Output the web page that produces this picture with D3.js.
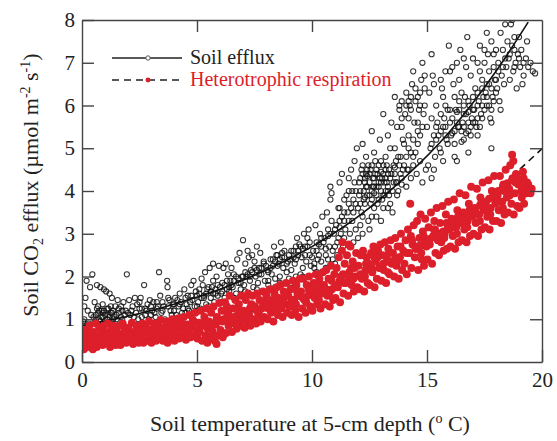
<!DOCTYPE html>
<html><head><meta charset="utf-8">
<script src="https://cdn.jsdelivr.net/npm/d3@7"></script>
<style>@font-face{font-family:"ChartSerif";src:local("Liberation Serif"),local("LiberationSerif"),local("LiberationSerif-Regular");}
body{margin:0;background:#fff}</style></head>
<body><svg id="c" width="557" height="441"></svg>
<script>
const xTicks=[0,5,10,15,20];
const yTicks=[0,1,2,3,4,5,6,7,8];
const seriesNames=["Soil efflux","Heterotrophic respiration"];
// Soil efflux observations [temperature, efflux]
const effluxPoints=[
[0.05,0.85],[0.1,1.0],[0.15,1.5],[0.2,1.9],[0.25,1.2],[0.3,0.9],[0.35,1.75],[0.45,2.05],[0.1,1.3],[0.4,1.1],[0.05,0.95],[0.3,0.8],
[0.55,0.95],[0.6,1.1],[0.65,1.8],[0.7,1.3],[0.75,1.0],[0.8,1.75],[0.85,1.2],[0.9,1.05],[0.95,1.7],[0.55,1.4],[0.7,0.9],[0.9,1.35],
[1.05,1.65],[1.1,1.25],[1.15,1.1],[1.2,1.6],[1.25,0.95],[1.3,1.5],[1.35,1.2],[1.4,1.05],[1.45,1.3],[1.1,1.0],[1.3,1.15],
[1.55,1.45],[1.6,1.15],[1.7,1.3],[1.75,1.0],[1.8,1.4],[1.9,1.2],[1.95,2.05],[1.85,1.1],
[0.6,1.0],[0.7,1.15],[0.8,0.95],[0.85,1.05],[0.95,1.2],[1.0,1.1],[1.05,0.9],[1.15,1.25],[1.2,1.05],[1.25,1.15],[1.35,1.0],[1.5,1.1],[1.6,1.25],[1.7,1.05],[0.65,1.25],[0.9,1.15],
[0.5,1.05],[0.75,1.2],[1.0,0.95],[1.25,1.3],[1.5,1.0],[1.75,1.2],[2.0,1.15],[2.25,1.05],[2.5,1.4],[2.75,1.25],[3.0,1.1],[3.25,1.4],[3.5,1.2],[3.75,1.5],[4.0,1.2],[4.25,1.35],[4.5,1.15],[4.75,1.55],[5.0,1.3],
[2.05,1.45],[2.1,1.1],[2.2,1.3],[2.3,1.5],[2.35,1.15],[2.45,1.0],[2.4,1.35],
[2.55,1.5],[2.6,1.25],[2.7,1.8],[2.75,1.1],[2.85,1.35],[2.9,1.0],[2.95,1.45],
[3.05,1.2],[3.1,1.4],[3.2,1.05],[3.3,1.3],[3.35,2.1],[3.4,1.55],[3.45,1.15],
[3.55,1.3],[3.6,1.0],[3.7,1.9],[3.72,1.75],[3.8,1.45],[3.85,1.2],[3.95,1.35],
[4.05,1.5],[4.1,1.1],[4.2,1.3],[4.25,1.6],[4.3,1.4],[4.4,1.25],[4.45,1.7],[4.35,1.15],
[4.55,1.35],[4.6,1.55],[4.65,1.2],[4.75,1.8],[4.8,1.45],[4.9,1.3],[4.95,1.65],[4.85,1.9],
[2.15,1.2],[2.5,1.25],[2.8,1.2],[3.0,1.3],[3.25,1.25],[3.5,1.4],[3.75,1.3],[4.0,1.35],[4.15,1.45],[4.5,1.5],[4.7,1.4],[2.6,1.05],[3.15,1.15],[3.9,1.1],[4.6,1.25],
[5.05,1.4],[5.1,1.6],[5.15,1.25],[5.2,1.95],[5.3,1.5],[5.35,2.1],[5.4,1.35],[5.45,1.7],[5.25,1.8],
[5.55,2.2],[5.6,1.5],[5.65,1.75],[5.7,2.3],[5.75,1.4],[5.8,1.6],[5.85,2.0],[5.9,1.55],[5.95,2.25],[5.7,1.9],
[6.05,1.6],[6.1,1.85],[6.15,2.2],[6.2,1.5],[6.3,1.7],[6.35,2.05],[6.4,1.65],[6.45,1.9],[6.25,2.3],
[6.55,1.75],[6.6,2.05],[6.7,1.6],[6.75,2.4],[6.8,1.85],[6.85,2.55],[6.9,1.7],[6.95,2.0],[7.0,2.85],
[7.05,1.8],[7.1,2.3],[7.15,2.0],[7.2,2.6],[7.3,1.9],[7.35,2.15],[7.4,2.5],[7.45,1.75],[7.25,2.45],
[7.55,2.0],[7.6,2.7],[7.65,1.85],[7.7,2.2],[7.75,2.55],[7.8,2.05],[7.9,2.3],[7.95,1.9],
[8.05,2.15],[8.1,1.9],[8.2,2.4],[8.25,2.05],[8.3,2.25],[8.4,1.95],[8.45,2.5],[8.35,2.7],[8.4,1.75],
[8.55,2.3],[8.6,2.0],[8.7,2.45],[8.75,2.2],[8.8,2.6],[8.9,2.1],[8.95,2.35],[8.65,2.8],
[9.05,2.4],[9.1,2.15],[9.2,2.6],[9.25,2.3],[9.3,2.0],[9.4,2.5],[9.45,2.75],[9.35,2.9],[9.1,1.85],
[9.55,2.45],[9.6,2.2],[9.7,2.7],[9.75,2.35],[9.8,2.9],[9.9,2.5],[9.95,2.25],[9.85,3.1],[9.65,3.0],[9.6,2.0],
[5.0,1.55],[5.2,1.5],[5.4,1.6],[5.6,1.65],[5.8,1.7],[6.0,1.75],[6.2,1.8],[6.4,1.75],[6.6,1.9],[6.8,1.95],[7.0,2.0],[7.2,2.05],[7.4,2.1],[7.6,2.15],[7.8,2.2],[8.0,2.25],[8.2,2.2],[8.4,2.35],[8.6,2.4],[8.8,2.45],[9.0,2.5],[9.2,2.45],[9.4,2.6],[9.6,2.65],[9.8,2.7],
[5.5,1.3],[6.1,1.4],[6.6,1.5],[7.1,1.65],[7.6,1.7],[8.1,1.8],[8.6,1.85],[9.0,1.95],[9.5,2.05],[6.5,2.2],[7.5,2.35],[8.5,2.5],[9.3,2.7],
[5.1,1.7],[5.3,1.55],[5.5,1.75],[5.7,1.6],[5.9,1.8],[6.1,1.65],[6.3,1.9],[6.5,1.8],[6.7,2.0],[6.9,1.85],[7.1,2.1],[7.3,2.0],[7.5,2.2],[7.7,2.05],[7.9,2.35],[8.1,2.1],[8.3,2.4],[8.5,2.25],[8.7,2.55],[8.9,2.3],[9.1,2.6],[9.3,2.4],[9.5,2.7],[9.7,2.5],[9.9,2.8],
[10.05,2.6],[10.1,2.3],[10.15,3.2],[10.2,2.8],[10.3,2.5],[10.35,3.0],[10.4,2.7],[10.45,3.4],[10.25,2.4],[10.2,2.1],[10.1,2.2],[10.4,2.35],
[10.55,2.9],[10.6,2.5],[10.65,3.5],[10.7,3.1],[10.75,2.7],[10.8,3.8],[10.85,3.3],[10.9,2.6],[10.95,3.0],[10.8,4.1],[10.85,3.95],[10.6,2.2],[10.9,2.4],
[10.0,2.45],[10.2,2.6],[10.4,2.9],[10.6,2.65],[10.8,3.0],[11.0,2.7],[11.2,3.15],[11.4,2.9],[10.3,2.75],[10.7,2.4],
[11.05,3.2],[11.1,2.8],[11.15,3.6],[11.2,4.2],[11.25,3.0],[11.3,3.4],[11.35,2.7],[11.4,3.8],[11.45,3.1],[11.3,4.4],[11.15,2.9],[11.1,2.5],[11.0,2.3],
[11.55,3.5],[11.6,4.0],[11.65,3.0],[11.7,4.5],[11.75,3.3],[11.8,3.8],[11.85,4.2],[11.9,3.1],[11.95,5.0],[11.7,3.6],[11.85,4.7],
[10.5,2.8],[10.7,2.95],[11.0,3.1],[11.2,3.3],[11.4,3.5],[11.6,3.3],[11.8,3.5],[11.9,3.7],[12.0,2.9],[12.2,3.0],[11.8,2.8],[12.5,3.1],[13.0,3.3],[13.5,3.5],[11.5,3.9],[11.6,4.3],
[12.05,3.9],[12.1,4.3],[12.15,3.5],[12.2,4.6],[12.25,4.0],[12.3,3.7],[12.35,4.4],[12.4,4.1],[12.45,3.3],[12.2,5.1],[12.35,4.8],[12.1,3.2],[12.3,4.2],[12.4,3.9],
[12.55,4.5],[12.6,4.0],[12.65,4.3],[12.7,3.6],[12.75,4.7],[12.8,4.1],[12.85,4.4],[12.9,3.8],[12.95,5.2],[12.6,5.4],[12.7,4.9],[12.8,3.4],[12.9,4.2],
[12.3,4.3],[12.5,4.2],[12.6,4.6],[12.8,4.5],[13.0,4.0],[13.1,4.4],[12.4,4.5],[12.9,4.6],[13.2,4.3],[12.7,4.1],[12.5,3.9],[13.0,4.7],
[12.0,3.6],[12.1,4.0],[12.3,3.85],[12.5,4.4],[12.6,3.8],[12.7,4.3],[12.8,3.9],[12.9,4.1],[13.0,4.2],[13.1,3.9],[13.2,4.5],[13.3,4.1],[13.4,4.3],[13.5,4.0],[13.6,4.4],[13.7,4.2],[13.8,4.6],[13.9,4.3],[13.3,3.6],[12.2,4.4],
[12.05,4.2],[12.15,4.5],[12.25,3.8],[12.35,4.1],[12.45,4.6],[12.55,3.7],[12.65,4.1],[12.75,4.4],[12.85,3.7],[12.95,4.3],[13.05,3.8],[13.15,4.2],[13.25,4.6],[13.35,3.9],[13.45,4.4],[13.55,4.2],[13.65,4.7],[13.75,4.0],[13.85,4.8],[13.95,4.5],
[12.1,3.7],[12.4,4.35],[12.7,3.95],[13.0,4.45],[13.3,4.0],[13.6,4.55],[13.9,4.15],[11.9,4.0],[11.75,4.0],[12.2,3.4],[12.6,3.4],[13.1,3.6],[11.6,3.7],[11.4,3.3],[11.2,3.6],
[13.05,4.3],[13.1,4.6],[13.15,3.9],[13.2,4.8],[13.25,4.2],[13.3,5.3],[13.35,4.5],[13.4,3.7],[13.45,5.6],[13.2,4.0],[13.3,4.4],[13.4,5.0],[13.1,5.8],
[13.55,4.6],[13.6,5.0],[13.65,4.2],[13.7,5.5],[13.75,4.8],[13.8,6.0],[13.85,4.4],[13.9,5.7],[13.95,5.2],[13.6,6.2],[13.7,3.9],[13.8,5.9],[13.9,6.1],
[14.05,5.8],[14.1,6.3],[14.15,4.5],[14.2,5.0],[14.25,6.0],[14.3,4.3],[14.35,6.5],[14.4,4.8],[14.45,5.6],[14.2,6.1],[14.3,5.9],[14.1,4.1],[14.4,6.8],
[14.0,4.6],[14.2,4.5],[14.4,4.6],[14.1,4.8],[14.3,4.9],[13.9,5.5],[14.2,5.7],[14.6,5.6],
[14.0,5.1],[14.2,5.3],[14.4,5.2],[14.6,5.4],[14.8,5.5],[14.1,6.0],[14.3,6.2],[14.5,6.4],[14.7,6.3],[14.9,6.7],
[14.55,4.4],[14.6,6.2],[14.65,5.9],[14.7,4.7],[14.75,6.6],[14.8,4.2],[14.85,5.8],[14.9,6.4],[14.95,4.5],[14.6,5.1],[14.8,7.0],[14.7,6.0],
[15.05,4.6],[15.1,6.3],[15.15,5.0],[15.2,4.3],[15.25,6.7],[15.3,5.3],[15.35,4.8],[15.4,6.0],[15.45,5.6],[15.2,7.2],[15.3,4.5],
[15.55,5.0],[15.6,5.4],[15.65,6.4],[15.7,4.7],[15.75,5.7],[15.8,6.8],[15.85,5.2],[15.9,5.9],[15.95,7.4],[15.6,4.9],[15.8,5.5],[15.7,6.2],
[14.5,4.9],[14.7,5.3],[15.0,5.5],[15.2,5.7],[15.4,5.2],[15.6,5.8],[15.8,5.3],[16.0,5.6],[16.2,5.4],[16.4,5.9],[16.6,5.5],[16.8,6.1],[17.0,5.6],[17.2,6.0],[17.4,5.7],[17.6,6.2],[17.8,5.9],[18.0,6.3],
[14.5,6.1],[14.9,6.0],[15.3,6.5],[15.6,6.6],[16.0,6.8],[16.4,6.6],[16.7,6.9],[17.0,7.1],[17.5,7.0],[18.0,7.3],[18.4,7.1],[18.8,7.3],[19.2,7.0],
[15.5,5.3],[15.7,5.5],[15.9,5.1],[16.0,5.9],[16.1,5.35],[16.3,5.85],[16.5,5.15],[16.6,6.0],[16.7,5.35],[16.8,5.85],[16.9,5.5],[17.0,6.2],[17.1,5.6],[17.2,6.3],[17.3,5.5],[17.4,6.4],[17.5,5.9],[17.6,6.5],[17.7,6.0],[17.8,6.4],[17.9,6.1],[18.0,6.6],[16.2,6.2],[16.5,6.3],[15.8,6.0],[15.4,5.5],[15.2,5.1],
[16.05,5.3],[16.1,5.7],[16.15,6.5],[16.2,5.1],[16.25,5.9],[16.3,7.0],[16.35,5.5],[16.4,6.1],[16.45,7.3],[16.2,4.8],[16.3,5.6],[16.1,6.9],[16.3,4.7],
[16.4,5.5],[16.6,5.8],[16.8,5.6],[17.0,5.9],[17.2,5.7],[16.5,5.4],[17.4,6.0],[16.9,5.3],
[16.55,5.6],[16.6,5.2],[16.65,6.2],[16.7,5.8],[16.75,7.6],[16.8,5.4],[16.85,6.0],[16.9,6.7],[16.95,5.7],[16.6,7.1],[16.8,4.9],
[17.05,5.9],[17.1,6.4],[17.15,5.5],[17.2,7.0],[17.25,6.1],[17.3,7.4],[17.35,5.8],[17.4,6.6],[17.45,6.2],[17.2,5.3],[17.3,6.8],
[17.55,6.3],[17.6,6.0],[17.65,7.2],[17.7,6.5],[17.75,5.7],[17.8,7.5],[17.85,6.2],[17.9,6.9],[17.95,6.6],[17.6,7.7],[17.8,5.6],[17.8,5.0],
[17.5,7.3],[17.7,6.8],[17.9,7.2],[18.1,6.8],[18.3,6.9],[18.5,7.5],[18.6,7.2],[18.8,6.9],[19.0,7.1],[19.0,7.6],
[18.05,6.4],[18.1,7.0],[18.15,6.1],[18.2,7.7],[18.25,6.7],[18.3,7.3],[18.35,6.5],[18.4,7.9],[18.45,6.9],[18.2,5.9],
[18.55,7.1],[18.6,6.6],[18.65,7.9],[18.7,7.4],[18.75,6.8],[18.8,7.6],[18.85,7.0],[18.9,6.4],[18.95,7.2],[18.7,8.0],
[19.05,6.9],[19.1,7.3],[19.2,6.7],[19.3,7.1],[19.4,6.9],[19.5,7.0],[19.6,6.8],[19.35,7.5],[19.15,6.5],[19.7,6.75]
];
// Heterotrophic respiration observations [temperature, respiration]
const hetPoints=[
[0.02,0.45],[0.05,0.6],[0.08,0.3],[0.12,0.75],[0.18,0.5],[0.22,0.35],[0.28,0.65],[0.32,0.85],[0.38,0.45],[0.42,0.6],[0.47,0.3],
[0.52,0.7],[0.56,0.45],[0.6,0.9],[0.64,0.35],[0.7,0.6],[0.75,0.8],[0.8,0.5],[0.85,0.65],[0.9,0.4],[0.95,0.85],[0.98,0.55],
[1.02,0.7],[1.07,0.45],[1.12,0.9],[1.17,0.6],[1.22,0.35],[1.27,0.75],[1.32,0.5],[1.37,0.85],[1.42,0.6],[1.47,0.4],
[1.52,0.7],[1.57,0.5],[1.62,0.85],[1.67,0.4],[1.72,0.65],[1.77,0.9],[1.82,0.55],[1.87,0.75],[1.92,0.45],[1.97,0.65],
[2.02,0.8],[2.07,0.5],[2.12,0.65],[2.17,0.92],[2.22,0.42],[2.27,0.7],[2.32,0.55],[2.37,0.85],[2.42,0.6],[2.47,0.45],
[2.52,0.75],[2.57,0.55],[2.62,0.9],[2.67,0.45],[2.72,0.68],[2.77,0.82],[2.82,0.5],[2.87,0.72],[2.92,0.95],[2.97,0.6],
[3.02,0.45],[3.07,0.78],[3.12,0.6],[3.17,0.9],[3.22,0.5],[3.27,0.7],[3.32,0.85],[3.37,0.55],[3.42,0.98],[3.47,0.68],
[3.52,0.5],[3.57,0.8],[3.62,0.62],[3.67,0.95],[3.72,0.45],[3.77,0.72],[3.82,0.88],[3.87,0.58],[3.92,1.0],[3.97,0.7],
[4.02,0.5],[4.07,0.85],[4.12,0.65],[4.17,1.02],[4.22,0.55],[4.27,0.78],[4.32,0.92],[4.37,0.6],[4.42,1.05],[4.47,0.72],
[4.52,0.52],[4.57,0.88],[4.62,0.68],[4.67,1.1],[4.72,0.58],[4.77,0.8],[4.82,0.98],[4.87,0.62],[4.92,1.15],[4.97,0.75],
[5.02,0.55],[5.07,0.92],[5.12,0.7],[5.17,1.2],[5.22,0.5],[5.27,0.85],[5.32,1.05],[5.37,0.62],[5.42,1.25],[5.47,0.78],[5.45,0.45],
[5.52,0.95],[5.57,0.55],[5.62,1.15],[5.67,0.72],[5.72,1.3],[5.77,0.5],[5.82,0.88],[5.87,1.05],[5.92,0.62],[5.97,1.38],[5.85,0.42],
[6.02,0.75],[6.07,1.2],[6.12,0.58],[6.17,1.0],[6.22,1.4],[6.27,0.68],[6.32,1.1],[6.37,0.85],[6.42,1.55],[6.47,0.95],[6.3,1.3],
[6.52,0.7],[6.57,1.25],[6.62,0.9],[6.67,1.45],[6.72,0.78],[6.77,1.1],[6.82,1.35],[6.87,0.85],[6.92,1.55],[6.97,1.0],[6.75,0.95],
[7.02,1.2],[7.07,0.8],[7.12,1.45],[7.17,0.95],[7.22,1.6],[7.27,1.1],[7.32,0.85],[7.37,1.35],[7.42,1.55],[7.47,1.0],[7.3,1.25],
[7.52,1.3],[7.57,0.9],[7.62,1.6],[7.67,1.1],[7.72,1.45],[7.77,0.95],[7.82,1.25],[7.87,1.65],[7.92,1.05],[7.97,1.4],[7.7,1.2],
[8.02,1.55],[8.07,1.0],[8.12,1.3],[8.17,1.7],[8.22,1.15],[8.27,1.45],[8.32,0.95],[8.37,1.6],[8.42,1.25],[8.47,1.75],[8.3,1.35],
[8.52,1.1],[8.57,1.5],[8.62,1.8],[8.67,1.25],[8.72,1.05],[8.77,1.65],[8.82,1.35],[8.87,1.85],[8.92,1.15],[8.97,1.55],[8.75,1.45],
[9.02,1.3],[9.07,1.7],[9.12,1.1],[9.17,1.9],[9.22,1.45],[9.27,1.2],[9.32,1.8],[9.37,1.55],[9.42,1.05],[9.47,1.95],[9.3,1.35],
[9.52,1.65],[9.57,1.25],[9.62,1.95],[9.67,1.45],[9.72,1.15],[9.77,1.8],[9.82,1.55],[9.87,2.0],[9.92,1.3],[9.97,1.7],[9.75,1.4],
[10.02,1.2],[10.07,1.85],[10.12,1.5],[10.17,2.05],[10.22,1.35],[10.27,1.7],[10.32,1.95],[10.37,1.25],[10.42,1.6],[10.47,2.1],[10.3,1.45],
[10.52,1.8],[10.57,1.35],[10.62,2.15],[10.67,1.55],[10.72,1.95],[10.77,1.3],[10.82,2.25],[10.87,1.7],[10.92,1.45],[10.97,2.05],[10.75,1.6],
[11.02,1.5],[11.07,2.2],[11.12,1.75],[11.17,2.45],[11.22,1.4],[11.27,2.0],[11.32,2.8],[11.37,1.6],[11.42,2.3],[11.47,1.85],[11.3,2.6],[11.2,1.9],
[11.52,2.5],[11.57,1.55],[11.62,2.1],[11.67,2.7],[11.72,1.8],[11.77,2.35],[11.82,1.65],[11.87,2.0],[11.92,2.55],[11.97,1.75],[11.7,2.2],[11.6,2.75],
[12.02,2.25],[12.07,1.7],[12.12,2.5],[12.17,1.95],[12.22,2.6],[12.27,1.65],[12.32,2.15],[12.37,2.45],[12.42,1.85],[12.47,2.3],[12.3,2.0],
[12.52,1.8],[12.57,2.55],[12.62,2.1],[12.67,2.7],[12.72,1.75],[12.77,2.35],[12.82,1.95],[12.87,2.6],[12.92,2.2],[12.97,2.75],[12.7,2.45],
[13.02,1.9],[13.07,2.5],[13.12,2.15],[13.17,2.8],[13.22,1.85],[13.27,2.4],[13.32,2.65],[13.37,2.05],[13.42,2.85],[13.47,2.3],[13.3,2.1],
[13.52,2.55],[13.57,2.0],[13.62,2.9],[13.67,2.25],[13.72,2.7],[13.77,1.95],[13.82,2.45],[13.87,3.0],[13.92,2.15],[13.97,2.6],[13.7,2.35],
[14.02,2.3],[14.07,2.85],[14.12,2.05],[14.17,3.1],[14.22,2.55],[14.27,3.7],[14.32,2.2],[14.37,2.75],[14.42,3.2],[14.47,2.45],[14.3,2.95],
[14.52,2.65],[14.57,3.3],[14.62,2.15],[14.67,2.9],[14.72,3.45],[14.77,2.4],[14.82,3.05],[14.87,2.25],[14.92,3.35],[14.97,2.7],[14.75,2.55],
[15.02,2.4],[15.07,3.15],[15.12,2.75],[15.17,3.5],[15.22,2.3],[15.27,2.95],[15.32,3.3],[15.37,2.55],[15.42,3.6],[15.47,2.85],[15.3,3.1],
[15.52,2.5],[15.57,3.25],[15.62,2.8],[15.67,3.65],[15.72,2.6],[15.77,3.0],[15.82,3.45],[15.87,2.65],[15.92,3.75],[15.97,3.1],[15.75,2.9],
[16.02,2.7],[16.07,3.35],[16.12,2.95],[16.17,3.8],[16.22,2.65],[16.27,3.15],[16.32,3.55],[16.37,2.8],[16.42,3.95],[16.47,3.25],[16.3,3.0],
[16.52,2.85],[16.57,3.5],[16.62,3.1],[16.67,3.9],[16.72,2.8],[16.77,3.3],[16.82,3.7],[16.87,2.95],[16.92,4.1],[16.97,3.4],[16.75,3.15],
[17.02,3.0],[17.07,3.6],[17.12,3.25],[17.17,4.05],[17.22,2.95],[17.27,3.45],[17.32,3.85],[17.37,3.1],[17.42,4.2],[17.47,3.55],[17.3,3.3],
[17.52,3.15],[17.57,3.75],[17.62,3.4],[17.67,4.25],[17.72,3.1],[17.77,3.6],[17.82,4.0],[17.87,3.3],[17.92,4.35],[17.97,3.7],[17.75,3.45],
[18.02,3.3],[18.07,3.9],[18.12,3.55],[18.17,4.35],[18.22,3.25],[18.27,3.75],[18.32,4.15],[18.37,3.45],[18.42,4.5],[18.47,3.85],[18.3,3.6],
[18.52,3.5],[18.57,4.05],[18.62,4.6],[18.67,3.7],[18.7,4.85],[18.72,4.3],[18.77,3.45],[18.82,3.95],[18.87,4.4],[18.92,3.65],[18.97,4.15],[18.75,4.7],
[19.02,3.6],[19.07,4.2],[19.12,3.85],[19.17,4.45],[19.22,3.7],[19.27,4.05],[19.32,3.95],[19.4,4.15],[19.5,3.95],[19.55,4.05],[19.2,4.3],
[0.1,0.55],[0.35,0.7],[0.6,0.5],[0.85,0.65],[1.1,0.6],[1.35,0.7],[1.6,0.55],[1.85,0.7],[2.1,0.6],[2.35,0.72],[2.6,0.6],[2.85,0.75],
[3.1,0.7],[3.35,0.8],[3.6,0.68],[3.85,0.82],[4.1,0.75],[4.35,0.88],[4.6,0.78],[4.85,0.95],[5.1,0.85],[5.35,0.95],[5.6,0.85],[5.85,1.0],[5.6,0.6],
[6.1,0.95],[6.35,1.15],[6.6,1.05],[6.85,1.2],[7.1,1.1],[7.35,1.3],[7.6,1.2],[7.85,1.4],[8.1,1.25],[8.35,1.45],[8.6,1.35],[8.85,1.55],
[9.1,1.45],[9.35,1.65],[9.6,1.5],[9.85,1.7],[10.1,1.6],[10.35,1.8],[10.6,1.7],[10.85,1.9],[11.1,1.8],[11.35,2.05],[11.6,1.95],[11.85,2.2],
[12.1,2.05],[12.35,2.3],[12.6,2.2],[12.85,2.45],[13.1,2.3],[13.35,2.55],[13.6,2.4],[13.85,2.7],[14.1,2.55],[14.35,2.85],[14.6,2.7],[14.85,2.95],
[15.1,2.85],[15.35,3.1],[15.6,3.0],[15.85,3.25],[16.1,3.15],[16.35,3.4],[16.6,3.3],[16.85,3.55],[17.1,3.45],[17.35,3.7],[17.6,3.6],[17.85,3.85],
[18.1,3.75],[18.35,4.0],[18.6,3.9],[18.85,4.2],[19.1,4.0],[19.35,4.2],
[10.2,1.62],[10.6,1.7],[11.0,1.77],[11.4,1.85],[11.8,1.95],[12.2,2.03],[12.6,2.12],[13.0,2.23],[13.4,2.33],[13.8,2.45],[14.2,2.55],
[14.5,2.65],[14.7,2.72],[14.9,2.8],[15.1,2.88],[15.3,2.92],[15.5,2.98],[15.7,3.05],[15.9,3.12],[16.1,3.18],[16.3,3.25],[16.5,3.33],[16.7,3.4],
[16.9,3.48],[17.1,3.57],[17.3,3.66],[17.5,3.74],[17.7,3.82],[17.9,3.92],[18.1,4.0],[18.3,4.1],[18.5,4.18],[18.7,4.25],[18.9,4.35]
];
// fitted curves
const effluxFitT=[0,2,4,6,8,10,12,14,16,18,19.4];
const effluxFitV=[0.85,1.07,1.35,1.7,2.15,2.7,3.4,4.3,5.4,6.8,7.95];
const hetFitT=[0,4,8,12,16,20];
const hetFitV=[0.5,0.79,1.26,1.99,3.15,4.99];

const FONT='"Liberation Serif"';
const svg=d3.select("#c");
const x=d3.scaleLinear().domain([0,20]).range([82,542]);
const y=d3.scaleLinear().domain([0,8]).range([362,20]);

svg.append("defs").append("clipPath").attr("id","clip")
  .append("rect").attr("x",82).attr("y",20).attr("width",460).attr("height",342);
const plot=svg.append("g").attr("clip-path","url(#clip)");

plot.append("g").selectAll("circle").data(effluxPoints).join("circle")
  .attr("cx",d=>x(d[0])).attr("cy",d=>y(d[1])).attr("r",2.6)
  .attr("fill","none").attr("stroke","#111").attr("stroke-opacity",0.85).attr("stroke-width",1.05);

const line=d3.line().curve(d3.curveMonotoneX);
plot.append("path")
  .attr("d",line(effluxFitT.map((t,i)=>[x(t),y(effluxFitV[i])])))
  .attr("fill","none").attr("stroke","#111").attr("stroke-width",1.6);
plot.append("path")
  .attr("d",line(hetFitT.map((t,i)=>[x(t),y(hetFitV[i])])))
  .attr("fill","none").attr("stroke","#111").attr("stroke-width",1.6).attr("stroke-dasharray","7,5");

plot.append("g").selectAll("circle").data(hetPoints).join("circle")
  .attr("cx",d=>x(d[0])).attr("cy",d=>y(d[1])).attr("r",4)
  .attr("fill","#dc1f2a");

function styleAxis(g){
  g.selectAll(".domain").attr("stroke","#444").attr("stroke-width",1.4);
  g.selectAll(".tick line").attr("stroke","#444").attr("stroke-width",1.4);
  g.selectAll("text").style("font-family",FONT).attr("font-size",21).attr("fill","#222");
}
svg.append("g").attr("transform","translate(0,362)")
  .call(d3.axisBottom(x).tickValues(xTicks).tickSize(-12).tickSizeOuter(0).tickPadding(10).tickFormat(d3.format("d")))
  .call(styleAxis);
svg.append("g").attr("transform","translate(82,0)")
  .call(d3.axisLeft(y).tickValues(yTicks).tickSize(-12).tickSizeOuter(0).tickPadding(7).tickFormat(d3.format("d")))
  .call(styleAxis);
svg.append("g").attr("transform","translate(0,20)")
  .call(d3.axisTop(x).tickValues(xTicks.slice(1,-1)).tickSize(-12).tickSizeOuter(0).tickFormat(""))
  .call(styleAxis);
svg.append("g").attr("transform","translate(542,0)")
  .call(d3.axisRight(y).tickValues(yTicks.slice(1,-1)).tickSize(-12).tickSizeOuter(0).tickFormat(""))
  .call(styleAxis);

// legend
const lg=svg.append("g");
lg.append("line").attr("x1",112).attr("x2",182).attr("y1",58).attr("y2",58).attr("stroke","#222").attr("stroke-width",1.4);
lg.append("circle").attr("cx",148).attr("cy",58).attr("r",2.2).attr("fill","#fff").attr("stroke","#555").attr("stroke-width",1);
const l1=lg.append("text").attr("x",190).attr("y",64).attr("font-size",20).attr("fill","#222");
l1.style("font-family",FONT); l1.text(seriesNames[0]);
lg.append("line").attr("x1",112).attr("x2",182).attr("y1",80).attr("y2",80).attr("stroke","#222").attr("stroke-width",1.4).attr("stroke-dasharray","7,5");
lg.append("circle").attr("cx",148).attr("cy",80).attr("r",2.4).attr("fill","#dc1f2a");
const l2=lg.append("text").attr("x",190).attr("y",86).attr("font-size",20).attr("fill","#dc1f2a");
l2.style("font-family",FONT); l2.text(seriesNames[1]);

// axis titles
const xt=svg.append("text").attr("x",310).attr("y",431).attr("text-anchor","middle").attr("font-size",22).attr("fill","#222");
xt.style("font-family",FONT);
xt.append("tspan").text("Soil temperature at 5-cm depth (");
xt.append("tspan").attr("font-size",14).attr("dy",-8).text("o");
xt.append("tspan").attr("dy",8).text(" C)");

const yt=svg.append("text").attr("transform","translate(38,185) rotate(-90)").attr("text-anchor","middle").attr("font-size",22).attr("fill","#222");
yt.style("font-family",FONT);
yt.append("tspan").text("Soil CO");
yt.append("tspan").attr("font-size",14).attr("dy",5).text("2");
yt.append("tspan").attr("dy",-5).text(" efflux (\u00b5mol m");
yt.append("tspan").attr("font-size",14).attr("dy",-8).text("-2");
yt.append("tspan").attr("dy",8).text(" s");
yt.append("tspan").attr("font-size",14).attr("dy",-8).text("-1");
yt.append("tspan").attr("dy",8).text(")");
</script></body></html>
